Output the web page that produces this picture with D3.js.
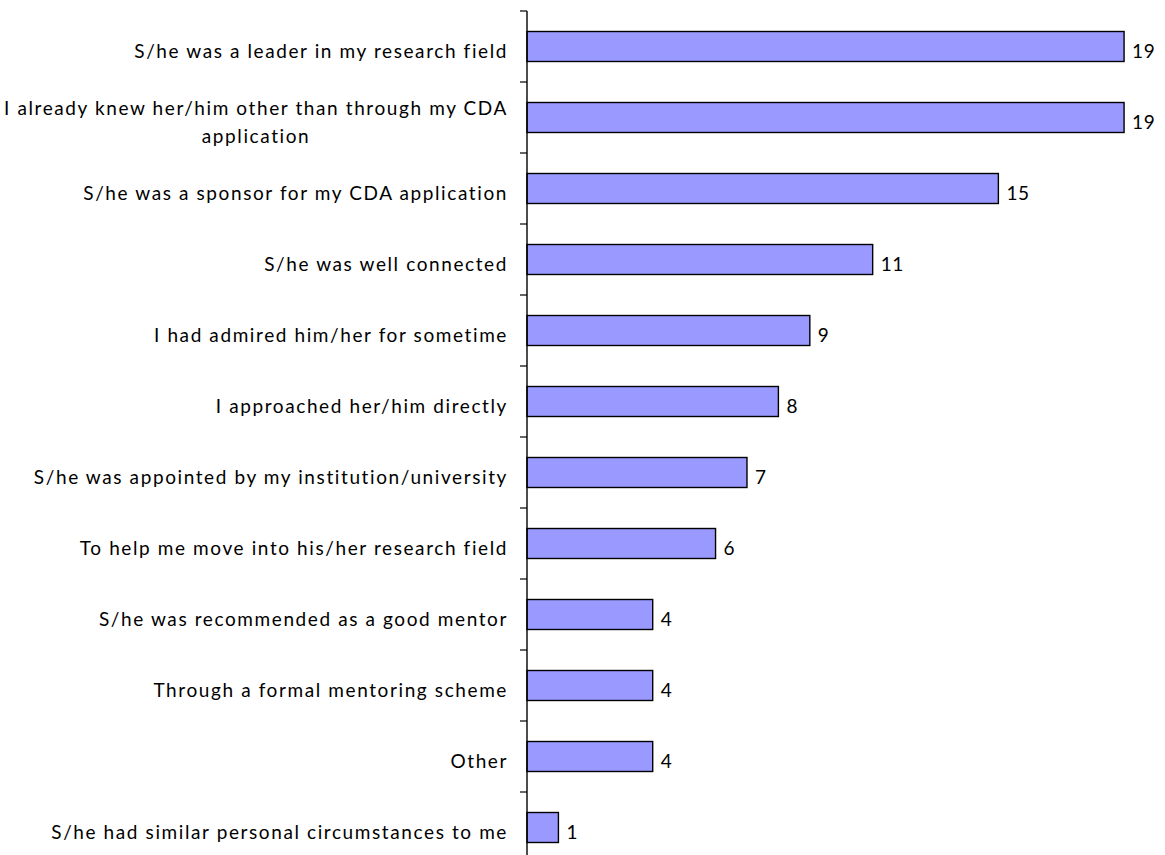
<!DOCTYPE html>
<html>
<head>
<meta charset="utf-8">
<script src="https://cdn.jsdelivr.net/npm/d3@7"></script>
<style>
  html, body { margin: 0; padding: 0; background: #fff; }
  svg { display: block; }
  text { font-family: Lato, "Open Sans", sans-serif; fill: #000; }
</style>
</head>
<body>
<svg id="chart" width="1165" height="855"></svg>
<script>
// Reasons for choosing a mentor (number of respondents)
const categories = [
  "S/he was a leader in my research field",
  "I already knew her/him other than through my CDA application",
  "S/he was a sponsor for my CDA application",
  "S/he was well connected",
  "I had admired him/her for sometime",
  "I approached her/him directly",
  "S/he was appointed by my institution/university",
  "To help me move into his/her research field",
  "S/he was recommended as a good mentor",
  "Through a formal mentoring scheme",
  "Other",
  "S/he had similar personal circumstances to me"
];
const counts = [19, 19, 15, 11, 9, 8, 7, 6, 4, 4, 4, 1];
const xDomain = [0, 20];

const svg = d3.select("#chart");
const axisX = 527;
const plotTop = 11;
const step = 71;

const x = d3.scaleLinear().domain(xDomain).range([axisX, 1155.5]);
const y = d3.scaleBand()
  .domain(categories)
  .range([plotTop, plotTop + step * categories.length])
  .paddingInner(41 / 71)
  .paddingOuter(41 / 142);

const fontSize = 19;
const letterSpacing = 1.6;
const labelRight = 508;
const wrapWidth = 530;
const lineGap = 28;

// Bars
svg.append("g")
  .selectAll("rect")
  .data(categories)
  .join("rect")
  .attr("x", x(0))
  .attr("y", d => y(d))
  .attr("width", (d, i) => x(counts[i]) - x(0))
  .attr("height", y.bandwidth())
  .attr("fill", "#9999FF")
  .attr("stroke", "#000")
  .attr("stroke-width", 1.4);

// Value labels
svg.append("g")
  .selectAll("text")
  .data(categories)
  .join("text")
  .attr("x", (d, i) => x(counts[i]) + 8)
  .attr("y", d => y(d) + y.bandwidth() / 2 + 11)
  .attr("font-size", fontSize)
  .attr("letter-spacing", 0.6)
  .text((d, i) => counts[i]);

// Axis line and ticks at band boundaries
const axis = svg.append("g");
axis.append("line")
  .attr("x1", axisX).attr("x2", axisX)
  .attr("y1", plotTop).attr("y2", 855)
  .attr("stroke", "#000").attr("stroke-width", 1.4);
const boundaries = d3.range(categories.length).map(i => plotTop + i * y.step());
axis.selectAll("line.tick")
  .data(boundaries)
  .join("line")
  .attr("class", "tick")
  .attr("x1", axisX - 7).attr("x2", axisX)
  .attr("y1", d => d).attr("y2", d => d)
  .attr("stroke", "#000").attr("stroke-width", 1.2);

// Category labels, wrapped when wider than the label area
const measure = svg.append("text")
  .attr("font-size", fontSize)
  .attr("letter-spacing", letterSpacing)
  .attr("visibility", "hidden");
function width(s) { measure.text(s); return measure.node().getComputedTextLength(); }
function wrap(label) {
  const words = label.split(" ");
  const lines = [];
  let cur = "";
  words.forEach(w => {
    const t = cur ? cur + " " + w : w;
    if (cur && width(t) > wrapWidth) { lines.push(cur); cur = w; }
    else cur = t;
  });
  lines.push(cur);
  return lines;
}

const labels = svg.append("g");
categories.forEach(cat => {
  const lines = wrap(cat);
  const cy = y(cat) + y.bandwidth() / 2 + 11;
  const n = lines.length;
  if (n === 1) {
    labels.append("text")
      .attr("x", labelRight)
      .attr("y", cy)
      .attr("text-anchor", "end")
      .attr("font-size", fontSize)
      .attr("letter-spacing", letterSpacing)
      .text(lines[0]);
  } else {
    const maxW = d3.max(lines, width);
    const cx = labelRight - maxW / 2;
    lines.forEach((ln, i) => {
      labels.append("text")
        .attr("x", cx)
        .attr("y", cy + (i - (n - 1) / 2) * lineGap)
        .attr("text-anchor", "middle")
        .attr("font-size", fontSize)
        .attr("letter-spacing", letterSpacing)
        .text(ln);
    });
  }
});
measure.remove();
</script>
</body>
</html>
